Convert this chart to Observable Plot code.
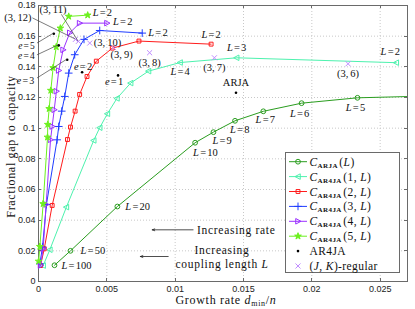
<!DOCTYPE html>
<html><head><meta charset="utf-8">
<script src="https://cdn.jsdelivr.net/npm/d3@7"></script>
<script src="https://cdn.jsdelivr.net/npm/@observablehq/plot@0.6"></script>
<style>
body{margin:0;background:#fff}
#wrap{position:relative;width:415px;height:309px;overflow:hidden}
#wrap svg{position:absolute;left:0;top:0}
</style>
</head><body><div id="wrap"></div>
<script>
// ---------- data ----------
const xTicks = [0, 0.005, 0.01, 0.015, 0.02, 0.025];
const yTicks = [0, 0.02, 0.04, 0.06, 0.08, 0.1, 0.12, 0.14, 0.16, 0.18];

const L_ar4ja = [2, 3, 4, 5, 6, 7, 8, 9, 10, 20, 50, 100];
const rate1 = [0.02618, 0.0145, 0.01036, 0.00805, 0.00674, 0.00574, 0.00504, 0.00448, 0.00404, 0.00204, 0.00083, 0.00034];
const gap1  = [0.1427, 0.1459, 0.1428, 0.1372, 0.1294, 0.1194, 0.1094, 0.1003, 0.092, 0.0485, 0.0207, 0.0104];
const rate2 = [0.01263, 0.00735, 0.0054, 0.00423, 0.00355, 0.00301, 0.00268, 0.00234, 0.00212, 0.001, 0.00042, 0.00015];
const gap2  = [0.1548, 0.1568, 0.1522, 0.1437, 0.1337, 0.122, 0.1111, 0.1007, 0.0926, 0.0496, 0.0213, 0.0104];
const rate3 = [0.00759, 0.00448, 0.00333, 0.00265, 0.00221, 0.00192, 0.0017, 0.00148, 0.00136, 0.00058, 0.00029, 0.0001];
const gap3  = [0.162, 0.1637, 0.1579, 0.1479, 0.1359, 0.1207, 0.1111, 0.1011, 0.0924, 0.0502, 0.0224, 0.0115];
const rate4 = [0.00501, 0.00301, 0.00229, 0.0018, 0.00148, 0.00131, 0.00115, 0.001, 0.00088, 0.00056, 0.00034, 0.00015];
const gap4  = [0.1685, 0.1685, 0.1622, 0.1511, 0.1376, 0.1241, 0.112, 0.1011, 0.0924, 0.0502, 0.0213, 0.0104];
const rate5 = [0.0036, 0.00221, 0.0016, 0.0013, 0.00107, 0.0009, 0.00078, 0.00068, 0.00066, 0.00034, 0.0001, 0.00001];
const gap5  = [0.1737, 0.1729, 0.1652, 0.153, 0.1394, 0.1246, 0.1127, 0.1024, 0.0941, 0.0507, 0.0228, 0.0132];

const L_arja = [4, 5, 6, 7, 8, 9, 10, 20, 50, 100];
const rateArja = [0.0305, 0.02334, 0.01925, 0.01645, 0.01438, 0.0128, 0.01146, 0.00577, 0.00234, 0.00117];
const gapArja  = [0.1214, 0.1198, 0.1163, 0.111, 0.1048, 0.0974, 0.0905, 0.0489, 0.020, 0.0106];

const eVals = [1, 2, 3, 4, 5];
const eRate = [0.00582, 0.00319, 0.0021, 0.00148, 0.00112];
const eGap  = [0.1344, 0.1365, 0.1446, 0.154, 0.1616];

const arjaDotRate = [0.01445];
const arjaDotGap  = [0.1231];

const regJ = [3, 3, 3, 3, 3, 3, 3];
const regK = [6, 7, 8, 9, 10, 11, 12];
const regRate = [0.02265, 0.01287, 0.00813, 0.0055, 0.00375, 0.00292, 0.0027];
const regGap  = [0.142, 0.1459, 0.1492, 0.1525, 0.1555, 0.1566, 0.1579];

const annText1 = "Increasing rate";
const annText2 = "Increasing\ncoupling length L";
const xLabel = "Growth rate dmin/n";
const yLabel = "Fractional gap to capacity";

// ---------- styles ----------
const SERIF = "'Liberation Serif', 'DejaVu Serif', serif";
const SANS = "'Liberation Sans', Arial, sans-serif";
const LS = "0.7px";

const triLeft = {draw(c, s){const r=Math.sqrt(s/Math.PI); c.moveTo(-r*1.25,0); c.lineTo(r*0.95,-r*1.15); c.lineTo(r*0.95,r*1.15); c.closePath();}};
const triRight = {draw(c, s){const r=Math.sqrt(s/Math.PI); c.moveTo(r*1.25,0); c.lineTo(-r*0.95,-r*1.15); c.lineTo(-r*0.95,r*1.15); c.closePath();}};

const series = [
  {id:"arja", L:L_arja, rate:rateArja, gap:gapArja, color:"#2a9d1f", sym:"circle", r:2.4, filled:false, name:["ARJA","(L)"]},
  {id:"e1", L:L_ar4ja, rate:rate1, gap:gap1, color:"#4df2ae", sym:triLeft, r:2.4, filled:false, name:["AR4JA","(1, L)"]},
  {id:"e2", L:L_ar4ja, rate:rate2, gap:gap2, color:"#ff1c1c", sym:"square", r:2.2, filled:false, name:["AR4JA","(2, L)"]},
  {id:"e3", L:L_ar4ja, rate:rate3, gap:gap3, color:"#1f3dff", sym:"plus", r:2.6, filled:false, name:["AR4JA","(3, L)"]},
  {id:"e4", L:L_ar4ja, rate:rate4, gap:gap4, color:"#9b30ff", sym:triRight, r:2.4, filled:false, name:["AR4JA","(4, L)"]},
  {id:"e5", L:L_ar4ja, rate:rate5, gap:gap5, color:"#6cf01e", sym:"star", r:2.1, filled:true, name:["AR4JA","(5, L)"]}
];
const rows = series.flatMap(s => s.L.map((l, i) => ({id:s.id, L:l, x:s.rate[i], y:s.gap[i], label:"L=" + l})));
const eRows = eVals.map((e, i) => ({e, x:eRate[i], y:eGap[i], label:"e=" + e}));
const regRows = regK.map((k, i) => ({J:regJ[i], K:k, x:regRate[i], y:regGap[i], label:"(" + regJ[i] + "," + k + ")"}));
const arjaRows = arjaDotRate.map((r, i) => ({x:r, y:arjaDotGap[i], label:"ARJA"}));

const fmt = d => d === 0 ? "0" : String(+d.toFixed(4));
const find = (id, l) => rows.filter(d => d.id === id && d.L === l);

const lab = (data, o) => Plot.text(data, {x:"x", y:"y", text:"label", fontFamily:SERIF, fontSize:10.5, fill:"#111", className:"math", ...o});

const marks = [
  Plot.gridX(xTicks, {stroke:"#c8c8c8", strokeOpacity:1, strokeDasharray:"1,2"}),
  Plot.gridY(yTicks, {stroke:"#c8c8c8", strokeOpacity:1, strokeDasharray:"1,2"}),
  Plot.axisX({ticks:xTicks, tickFormat:fmt, tickSize:0, tickPadding:4, label:null, fontFamily:SANS, fontSize:9}),
  Plot.axisY({ticks:yTicks, tickFormat:fmt, tickSize:0, tickPadding:3, label:null, fontFamily:SANS, fontSize:9}),
  Plot.frame({stroke:"#6a6a6a", strokeWidth:1}),
  Plot.arrow([{x1:0.01131, x2:0.00832, y:0.0337}], {x1:"x1", x2:"x2", y1:"y", y2:"y", stroke:"#222", strokeWidth:0.8, headLength:5, headAngle:40}),
  Plot.arrow([{x1:0.00949, x2:0.00745, y:0.0163}], {x1:"x1", x2:"x2", y1:"y", y2:"y", stroke:"#222", strokeWidth:0.8, headLength:5, headAngle:40}),
  Plot.text([annText1], {x:0.0116, y:0.0337, textAnchor:"start", fontFamily:SERIF, fontSize:11.5, fill:"#111", className:"spaced"}),
  Plot.text([annText2], {x:0.01343, y:0.0163, textAnchor:"middle", lineHeight:1.22, fontFamily:SERIF, fontSize:11.5, fill:"#111", className:"ann2 spaced"}),
];

for (const s of series) {
  const data = rows.filter(d => d.id === s.id);
  const clip = s.id === "arja";
  marks.push(Plot.line(data, {x:"x", y:"y", stroke:s.color, strokeWidth:1, clip}));
  marks.push(Plot.dot(data, {x:"x", y:"y", symbol:s.sym, r:s.r, stroke:s.color, strokeWidth:1, fill:s.filled ? s.color : "none", clip}));
}
marks.push(
  Plot.dot(eRows, {x:"x", y:"y", r:1.3, fill:"#000"}),
  Plot.dot(arjaRows, {x:"x", y:"y", r:1.3, fill:"#000"}),
  Plot.dot(regRows, {x:"x", y:"y", symbol:"times", r:2.4, stroke:"#c08cff", strokeWidth:1}),
  lab([...find("arja",5), ...find("arja",6)], {dy:10, dx:-2}),
  lab(find("arja",7), {dy:8, dx:2}),
  lab(find("arja",8), {dy:9, dx:-5, textAnchor:"start"}),
  lab(find("arja",9), {dy:8, dx:-1, textAnchor:"start"}),
  lab(find("arja",10), {dy:10, dx:-2, textAnchor:"start"}),
  lab(find("arja",20), {dx:8, textAnchor:"start"}),
  lab(find("arja",50), {dx:10, textAnchor:"start"}),
  lab(find("arja",100), {dx:7, textAnchor:"start"}),
  lab(find("e1",2), {dx:-6, dy:-11}),
  lab(find("e1",3), {dy:-10}),
  lab(find("e1",4), {dy:9}),
  lab(find("e2",2), {dy:-10}),
  lab(find("e3",2), {dx:6, textAnchor:"start"}),
  lab(find("e4",2), {dx:6, dy:-2, textAnchor:"start"}),
  lab(find("e5",2), {dx:5, dy:-3, textAnchor:"start"}),
  lab(eRows.filter(d => d.e === 1), {dx:-4, dy:6}),
  lab(eRows.filter(d => d.e === 2), {dx:1, dy:-6}),
  lab(eRows.filter(d => d.e === 3), {dx:-41.7, dy:20.7, fontSize:10}),
  lab(eRows.filter(d => d.e === 4), {dx:-32.3, dy:11, fontSize:9.5}),
  lab(eRows.filter(d => d.e === 5), {dx:-27.3, dy:12.3, fontSize:9.5}),
  lab(arjaRows, {dy:-10}),
  lab(regRows.filter(d => d.K <= 8), {dy:10}),
  lab(regRows.filter(d => d.K === 9), {dx:8, dy:7}),
  lab(regRows.filter(d => d.K === 10), {dx:4, textAnchor:"start"}),
  lab(regRows.filter(d => d.K === 11), {dx:-25.5, dy:-31.5}),
  lab(regRows.filter(d => d.K === 12), {dx:-57.5, dy:-22}),
  Plot.text([yLabel], {frameAnchor:"left", textAnchor:"middle", dx:-27, dy:3, rotate:-90, fontFamily:SERIF, fontSize:12, fill:"#111", className:"spaced"}),
  Plot.text([xLabel], {frameAnchor:"bottom", textAnchor:"middle", dy:22, dx:3, fontFamily:SERIF, fontSize:12, fill:"#111", className:"xlab spaced"})
);

const plot = Plot.plot({
  width:415, height:309,
  marginLeft:38, marginRight:8, marginTop:5, marginBottom:28,
  x:{domain:[0, 0.027]},
  y:{domain:[0, 0.18]},
  style:{fontFamily:SANS, fontSize:"9px", background:"#fff", overflow:"visible", color:"#222"},
  marks
});
document.getElementById("wrap").appendChild(plot);

const svg = d3.select(plot);
const sx = plot.scale("x"), sy = plot.scale("y");
svg.selectAll("g.spaced text").attr("letter-spacing", LS);

// inward ticks on all four sides
const [X0, X1] = sx.range, [Y0, Y1] = sy.range;
const tg = svg.append("g").attr("stroke", "#6a6a6a").attr("stroke-width", 1);
for (const v of xTicks) {
  const p = Math.round(sx.apply(v)) + 0.5;
  tg.append("line").attr("x1", p).attr("x2", p).attr("y1", Y0).attr("y2", Y0 - 3);
  tg.append("line").attr("x1", p).attr("x2", p).attr("y1", Y1).attr("y2", Y1 + 3);
}
for (const v of yTicks) {
  const p = Math.round(sy.apply(v)) + 0.5;
  tg.append("line").attr("y1", p).attr("y2", p).attr("x1", X0).attr("x2", X0 + 3);
  tg.append("line").attr("y1", p).attr("y2", p).attr("x1", X1).attr("x2", X1 - 3);
}

// leader lines from labels to points (pixel offsets)
const leaders = [
  [eRows[2], -29.7, 18.7], [eRows[3], -21.3, 10], [eRows[4], -16.3, 9.8],
  [regRows[5], -16.5, -26.5], [regRows[6], -42.5, -21]
];
const lg = svg.append("g").attr("stroke", "#444").attr("stroke-width", 0.7);
for (const [d, dx, dy] of leaders) {
  const px = sx.apply(d.x), py = sy.apply(d.y);
  lg.append("line").attr("x1", px + dx).attr("y1", py + dy).attr("x2", px).attr("y2", py);
}

// math-like formatting of labels
svg.selectAll("g.math text").each(function(){
  const t = d3.select(this);
  const s = t.text();
  let m = s.match(/^([A-Za-z])=(.*)$/);
  if (m) {
    t.text(null);
    t.append("tspan").attr("font-style","italic").text(m[1]);
    t.append("tspan").attr("dx", 1.2).text("=");
    t.append("tspan").attr("dx", 1.2).text(m[2]);
    return;
  }
  m = s.match(/^\((\d+),(\d+)\)$/);
  if (m) {
    t.text(null);
    t.append("tspan").text("(" + m[1] + ",");
    t.append("tspan").attr("dx", 2).text(m[2] + ")");
  }
});
svg.selectAll("g.ann2 tspan").each(function(){
  const t = d3.select(this);
  const s = t.text();
  if (s.endsWith(" L")) {
    t.text(s.slice(0, -1));
    t.append("tspan").attr("font-style","italic").text("L");
  }
});
svg.selectAll("g.xlab text").each(function(){
  const t = d3.select(this);
  t.text(null);
  t.append("tspan").text("Growth rate ");
  t.append("tspan").attr("font-style","italic").text("d");
  t.append("tspan").attr("font-size", 8).attr("dy", 2.5).text("min");
  t.append("tspan").attr("dy", -2.5).text("/");
  t.append("tspan").attr("font-style","italic").text("n");
});

// ---------- legend ----------
const leg = svg.append("g").attr("transform", "translate(285.5,152.5)").attr("text-anchor", "start");
leg.append("rect").attr("width", 114).attr("height", 120).attr("fill", "#fff").attr("stroke", "#6a6a6a");
const items = [
  ...series.map(s => ({kind:"series", s})),
  {kind:"dot", name:"AR4JA"},
  {kind:"reg", name:"(J, K)-regular"}
];
const symMap = {circle:d3.symbolCircle, square:d3.symbolSquare, plus:d3.symbolPlus, star:d3.symbolStar};
items.forEach((it, i) => {
  const y = 9.2 + i * 14.9;
  const g = leg.append("g").attr("transform", `translate(0,${y})`);
  const txt = () => g.append("text").attr("x", 24).attr("y", 4).attr("font-family", SERIF).attr("font-size", 11.5).attr("letter-spacing", "0.4px").attr("fill", "#111");
  if (it.kind === "series") {
    const s = it.s;
    g.append("line").attr("x1", 3.5).attr("x2", 21.5).attr("stroke", s.color).attr("stroke-width", 1);
    g.append("path").attr("transform", "translate(12.5,0)")
      .attr("d", d3.symbol(typeof s.sym === "string" ? symMap[s.sym] : s.sym, Math.PI * s.r * s.r)())
      .attr("stroke", s.color).attr("fill", s.filled ? s.color : "none");
    const t = txt();
    t.append("tspan").attr("font-style", "italic").text("C");
    t.append("tspan").attr("font-size", 7).attr("font-weight", "bold").attr("dy", 2).text(s.name[0]);
    const m = s.name[1].match(/^\((.*)L\)$/);
    t.append("tspan").attr("dy", -2).attr("dx", 1.5).text("(" + m[1]);
    t.append("tspan").attr("font-style", "italic").text("L");
    t.append("tspan").text(")");
  } else if (it.kind === "dot") {
    g.append("circle").attr("cx", 12.5).attr("r", 1.3).attr("fill", "#000");
    txt().text(it.name);
  } else {
    g.append("path").attr("transform", "translate(12.5,0)").attr("d", d3.symbol(d3.symbolTimes, Math.PI*2.4*2.4)()).attr("stroke", "#c08cff").attr("fill", "none");
    const t = txt();
    t.append("tspan").text("(");
    t.append("tspan").attr("font-style", "italic").text("J");
    t.append("tspan").text(", ");
    t.append("tspan").attr("font-style", "italic").text("K");
    t.append("tspan").text(")-regular");
  }
});
</script></body></html>
